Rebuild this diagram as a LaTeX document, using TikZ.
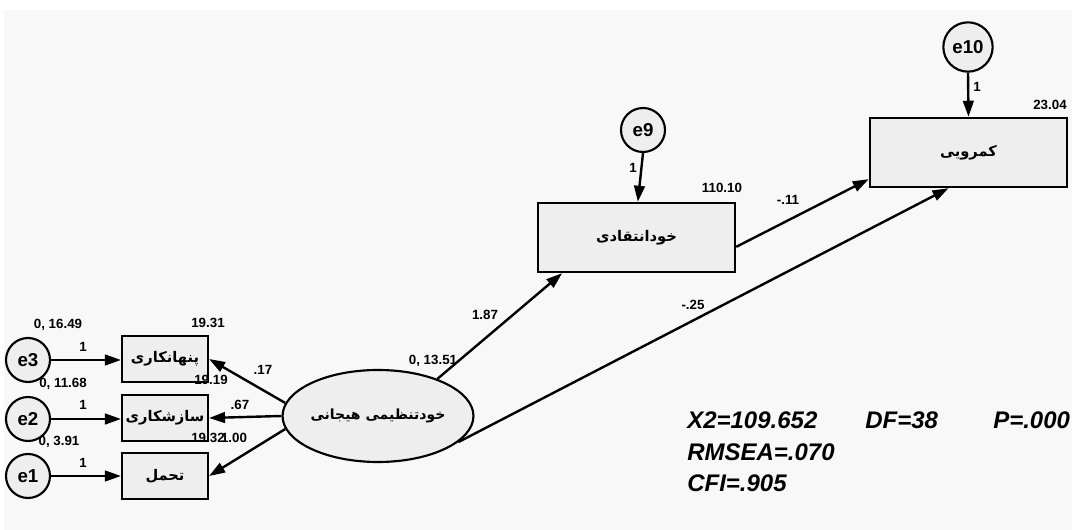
\documentclass[tikz,border=0pt]{standalone}
\usepackage{fontspec}
\setmainfont{Liberation Sans}
\newfontfamily\arabicfont[Script=Arabic]{DejaVu Sans}
\TeXXeTstate=1
\usetikzlibrary{arrows.meta,shapes.geometric}
\definecolor{bgcol}{HTML}{F8F8F8}
\definecolor{boxcol}{HTML}{EEEEEE}
\newcommand{\fa}[1]{{\arabicfont\bfseries\beginR #1\endR}}

\begin{document}
\begin{tikzpicture}[x=0.75pt, y=-0.75pt,
  obs/.style={draw, line width=1.6pt, fill=boxcol, minimum width=64.5pt, minimum height=35pt, inner sep=0pt, font=\fontsize{11}{13}\selectfont},
  err/.style={draw, circle, line width=1.6pt, fill=boxcol, minimum size=33pt, inner sep=0pt, font=\fontsize{14}{16}\selectfont\bfseries},
  lat/.style={draw, ellipse, line width=1.6pt, fill=boxcol, minimum width=127.5pt, minimum height=69pt, inner sep=0pt, font=\fontsize{10.5}{12}\selectfont},
  pth/.style={-{Triangle[length=12pt,width=8pt]}, line width=1.8pt},
  val/.style={font=\fontsize{10}{12}\selectfont\bfseries, inner sep=0pt},
  fitstat/.style={font=\fontsize{18}{22}\selectfont\bfseries\itshape, anchor=west, inner sep=0pt}]
  \path[use as bounding box, fill=white] (0,0) rectangle (1072,530);
  \fill[bgcol] (4,10) rectangle (1072,530);

  % error terms and indicators
  \node[err] (e3) at (28,360) {e3};
  \node[err] (e2) at (28,419) {e2};
  \node[err] (e1) at (28,476) {e1};
  \node[obs] (hide) at (165,359) {\fa{پنهانکاری}};
  \node[obs] (comp) at (165,418) {\fa{سازشکاری}};
  \node[obs] (tol) at (165,476) {\fa{تحمل}};
  \node[lat] (emo) at (378,416) {\fa{خودتنظیمی هیجانی}};

  % outcomes
  \node[obs, minimum width=148pt, minimum height=52pt] (crit) at (636.5,237.5) {\fa{خودانتقادی}};
  \node[obs, minimum width=148pt, minimum height=52pt] (shy) at (968.5,152.5) {\fa{کمرویی}};
  \node[err] (e9) at (643,130) {e9};
  \node[err, minimum height=37pt] (e10) at (968,47) {e10};

  \draw[pth] (e3.east) -- (e3.east -| hide.west);
  \draw[pth] (e2.east) -- (e2.east -| comp.west);
  \draw[pth] (e1.east) -- (e1.east -| tol.west);
  \draw[pth] (emo.172) -- (hide.east);
  \draw[pth] (emo.west) -- (comp.east);
  \draw[pth] (emo.188) -- (tol.east);
  \draw[pth] (emo.32) -- ([xshift=19pt]crit.south west);
  \draw[pth] (emo.-18) -- ([xshift=-15pt]shy.south);
  \draw[pth] ([yshift=-7pt]crit.east) -- ([yshift=-20pt]shy.west);
  \draw[pth] (e9.south) -- ([xshift=1pt]crit.north);
  \draw[pth] (e10.south) -- (shy.north);

  % estimates
  \node[val] (v1) at (58,325) {0, 16.49};
  \node[val] (v2) at (208,323) {19.31};
  \node[val] (v3) at (83,347) {1};
  \node[val] (v4) at (263,370) {.17};
  \node[val] (v5) at (63,384) {0, 11.68};
  \node[val] (v6) at (211,380) {19.19};
  \node[val] (v7) at (83,405) {1};
  \node[val] (v8) at (240,405) {.67};
  \node[val] (v9) at (59,442) {0, 3.91};
  \node[val] (v10) at (208,438) {19.32};
  \node[val] (v11) at (234,438) {1.00};
  \node[val] (v12) at (83,463) {1};
  \node[val] (v13) at (433,361) {0, 13.51};
  \node[val] (v14) at (485,315) {1.87};
  \node[val] (v15) at (633,168) {1};
  \node[val] (v16) at (722,188) {110.10};
  \node[val] (v17) at (788,200) {-.11};
  \node[val] (v18) at (693,305) {-.25};
  \node[val] (v19) at (977,87) {1};
  \node[val] (v20) at (1050,105) {23.04};

  % fit indices
  \node[fitstat] (chi) at (687,420) {X2=109.652};
  \node[fitstat] (df) at (865,420) {DF=38};
  \node[fitstat] (pv) at (993,420) {P=.000};
  \node[fitstat] (rmsea) at (687,452) {RMSEA=.070};
  \node[fitstat] (cfi) at (687,483) {CFI=.905};
\end{tikzpicture}
\end{document}
